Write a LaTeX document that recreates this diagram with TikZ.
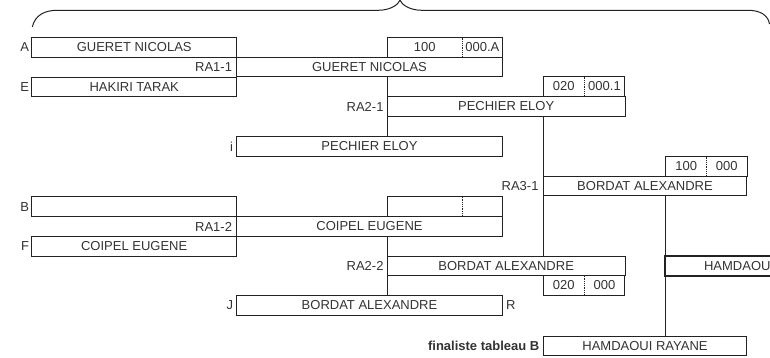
\documentclass[tikz,border=0pt]{standalone}
\usepackage{fontspec}
\setmainfont{Liberation Sans}
\definecolor{ink}{HTML}{222222}
\definecolor{txt}{HTML}{333333}
\begin{document}
\begin{tikzpicture}[x=1pt,y=-1pt,
  every node/.style={font=\fontsize{13}{15}\selectfont, text=txt, inner sep=0pt, outer sep=0pt},
  box/.style={draw=ink, line width=0.9pt, rectangle, anchor=north west, minimum height=19.6pt},
  wide/.style={box, minimum width=265.6pt},
  first/.style={box, minimum width=205pt},
  mid/.style={box, minimum width=237.7pt},
  third/.style={box, minimum width=203.4pt},
  score/.style={box, minimum width=81.5pt},
  scorewide/.style={box, minimum width=115pt},
  lab/.style={anchor=east},
  conn/.style={draw=ink, line width=0.9pt},
  divider/.style={draw=ink, line width=0.8pt, densely dotted}
]
\useasboundingbox (0,0) rectangle (770,358);
\clip (0,0) rectangle (770,358);

% brace
\draw[ink, line width=1pt] (32.3,27) .. controls (35,15) and (45,10.3) .. (57,10.3) -- (378,10.3)
  .. controls (390,10.3) and (398,5) .. (400,0.3)
  .. controls (402,5) and (410,10.3) .. (422,10.3) -- (748,10.3)
  .. controls (760,10.3) and (768,15) .. (769.5,24);

% round 1
\node[first] (A) at (31.7,37.7) {GUERET NICOLAS};
\node[first] (E) at (31.7,77.3) {HAKIRI TARAK};
\node[first] (B) at (31.7,196.7) {};
\node[first] (F) at (31.7,236.7) {COIPEL EUGENE};
\node[lab] (lA) at (29,47.5) {A};
\node[lab] (lE) at (29,87.3) {E};
\node[lab] (lB) at (29,206.7) {B};
\node[lab] (lF) at (29,246.3) {F};

% RA1-1
\node[wide] (R11) at (236.7,57.3) {GUERET NICOLAS};
\node[scorewide] (s1) at (387.3,37.7) {};
\node at (424.8,47.5) (s1a) {100};
\node at (482.3,47.5) (s1b) {000.A};
\draw[divider] ([xshift=75pt]s1.north west) -- ([xshift=75pt]s1.south west);
\node[lab] (l11) at (232,67.3) {RA1-1};

% RA1-2
\node[wide] (R12) at (236.7,216.7) {COIPEL EUGENE};
\node[scorewide] (s4) at (387.3,196.7) {};
\draw[divider] ([xshift=75pt]s4.north west) -- ([xshift=75pt]s4.south west);
\node[lab] (l12) at (232,226.7) {RA1-2};

% repechage boxes
\node[wide] (I) at (236.7,136.7) {PECHIER ELOY};
\node[lab] (li) at (233,146.5) {i};
\node[wide] (J) at (236.7,295.7) {BORDAT ALEXANDRE};
\node[lab] (lJ) at (233,305.5) {J};
\node[anchor=west] (lR) at (506,305.5) {R};

% RA2-1
\node[mid] (R21) at (387.3,96.7) {PECHIER ELOY};
\node[score] (s2) at (543.3,76.7) {};
\node at (563.7,86.5) (s2a) {020};
\node at (604.5,86.5) (s2b) {000.1};
\draw[divider] ([xshift=40.7pt]s2.north west) -- ([xshift=40.7pt]s2.south west);
\node[lab] (l21) at (383.5,106.7) {RA2-1};

% RA2-2
\node[mid] (R22) at (387.3,256) {BORDAT ALEXANDRE};
\node[score] (s5) at (543.3,275.7) {};
\node at (563.7,285.5) (s5a) {020};
\node at (604.5,285.5) (s5b) {000};
\draw[divider] ([xshift=40.7pt]s5.north west) -- ([xshift=40.7pt]s5.south west);
\node[lab] (l22) at (383.5,266) {RA2-2};

% RA3-1
\node[third] (R31) at (543.3,176) {BORDAT ALEXANDRE};
\node[score] (s3) at (665.7,156.7) {};
\node at (686.2,166.3) (s3a) {100};
\node at (726.7,166.3) (s3b) {000};
\draw[divider] ([xshift=41pt]s3.north west) -- ([xshift=41pt]s3.south west);
\node[lab] (l31) at (538.5,186) {RA3-1};

% HAMDAOUI (clipped) box
\node[box, minimum width=203.4pt, line width=2pt] (H) at (665,256) {HAMDAOUI RAYANE};

% final
\node[third] (FIN) at (543.3,336) {HAMDAOUI RAYANE};
\node[lab, font=\fontsize{13}{15}\selectfont\bfseries] (lfin) at (539.3,346) {finaliste tableau B};

% connectors
\draw[conn] (R11.south -| s1.west) -- (I.north -| s1.west);
\draw[conn] (R12.south -| s4.west) -- (J.north -| s4.west);
\draw[conn] (R21.south -| s2.west) -- (R22.north -| s2.west);
\draw[conn] (R31.south -| s3.west) -- (FIN.north -| s3.west);
\end{tikzpicture}
\end{document}
